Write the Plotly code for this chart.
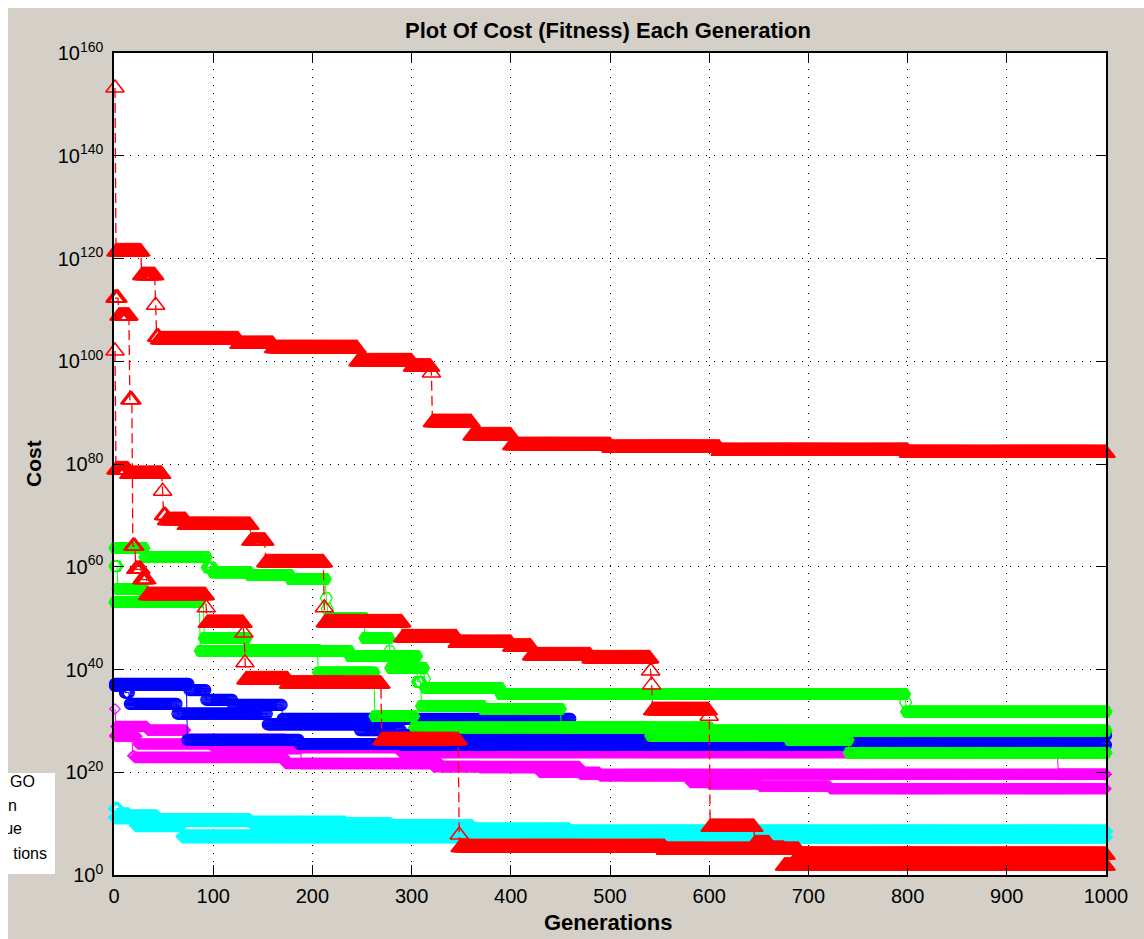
import numpy as np
import plotly.graph_objects as go

FONT = "Liberation Sans, Arial, Helvetica, sans-serif"
N_GEN = 1000

# Each run: generation at which a new best cost appears, and log10 of that cost.
# The best cost is held until the next improvement.
red_a_gen = [1, 2, 28, 42, 43, 46, 126, 161, 246, 301, 320, 321, 361, 401, 501, 611, 801]
red_a_log = [153.2, 121.3, 116.7, 110.9, 104.7, 104.2, 103.3, 102.5, 99.9, 98.9, 97.7, 88.1, 85.5, 83.6, 83.1, 82.5, 82.1]

red_b_gen = [1, 2, 15, 49, 50, 53, 73, 138, 153, 212, 213, 291, 346, 401, 421, 481, 541, 542, 543, 600, 601, 646, 661, 676]
red_b_log = [102.0, 78.9, 78.0, 74.7, 70.0, 69.0, 68.1, 65.0, 60.8, 52.0, 49.1, 46.2, 45.1, 44.4, 42.7, 42.1, 39.7, 37.0, 32.0, 30.9, 9.3, 6.1, 5.0, 1.75]

red_c_gen = [1, 5, 16, 19, 22, 28, 34, 93, 94, 131, 132, 133, 176, 270, 348, 349, 556, 691]
red_c_log = [112.3, 108.8, 92.5, 64.0, 59.5, 57.5, 54.4, 52.0, 49.0, 47.1, 41.3, 38.0, 37.2, 26.2, 7.8, 5.35, 4.8, 3.9]

green_a_gen = [1, 31, 94, 100, 137, 178, 214, 215, 216, 253, 278, 279, 313, 314, 390, 798, 799]
green_a_log = [63.65, 61.9, 59.85, 58.9, 58.4, 57.6, 53.9, 51.8, 50.0, 46.1, 43.6, 40.3, 38.2, 36.4, 35.2, 33.6, 31.8]

green_b_gen = [1, 4, 31, 91, 134, 206, 263, 303, 601]
green_b_log = [60.1, 55.7, 54.5, 46.1, 43.8, 39.4, 30.9, 28.7, 28.1]

green_c_gen = [1, 87, 238, 306, 310, 372, 451, 541, 681, 741]
green_c_log = [53.1, 43.6, 42.6, 37.6, 32.9, 32.3, 28.7, 27.1, 26.3, 23.8]

blue_a_gen = [1, 74, 187, 290]
blue_a_log = [37.0, 26.3, 25.5, 25.3]

blue_b_gen = [1, 76, 93, 120, 170, 461, 800]
blue_b_log = [37.2, 36.0, 34.1, 33.1, 30.4, 27.3, 27.2]

blue_c_gen = [1, 11, 16, 64, 155, 248, 290]
blue_c_log = [36.8, 35.5, 33.3, 31.4, 29.3, 28.2, 27.3]

magenta_a_gen = [1, 2, 34, 73, 173, 289, 952]
magenta_a_log = [32.3, 28.9, 28.2, 26.4, 24.8, 23.8, 19.6]

magenta_b_gen = [1, 24, 101, 189, 330, 470]
magenta_b_log = [27.0, 25.5, 24.6, 21.7, 21.1, 19.6]

magenta_c_gen = [1, 19, 21, 173, 322, 369, 429, 490, 581, 600, 651, 722]
magenta_c_log = [27.2, 23.2, 22.9, 21.7, 21.1, 20.9, 20.0, 19.3, 18.0, 17.7, 17.3, 16.8]

cyan_a_gen = [1, 5, 16, 44, 138, 234, 280, 362, 460]
cyan_a_log = [12.9, 11.8, 11.4, 10.7, 10.2, 9.9, 9.5, 8.9, 8.5]

cyan_b_gen = [1, 22, 69, 500]
cyan_b_log = [11.2, 9.7, 7.5, 7.4]

x_ticks = list(range(0, 1001, 100))
y_tick_exps = list(range(0, 161, 20))
legend_lines = ["GO", "n", "ue", "tions"]

title_text = "Plot Of Cost (Fitness) Each Generation"
x_title = "Generations"
y_title = "Cost"


def best_cost_curve(start_gens, log_costs):
    gens = np.arange(1, N_GEN + 1)
    seg = np.searchsorted(start_gens, gens, side="right") - 1
    return gens, 10.0 ** np.asarray(log_costs)[seg]


STYLES = {
    "cyan": dict(color="#00ffff", symbol="diamond-open", size=10, mw=1.2, dash="solid", lw=1),
    "magenta": dict(color="#ff00ff", symbol="diamond-open", size=8, mw=1.2, dash="solid", lw=1),
    "blue": dict(color="#0000ff", symbol="circle-open", size=11, mw=1.2, dash="solid", lw=1),
    "green": dict(color="#00ff00", symbol="hexagon2-open", size=12, mw=1.2, dash="solid", lw=1),
    "red": dict(color="#ff0000", symbol="triangle-up-open", size=16, mw=1.5, dash="10px,5px", lw=1.3),
}

runs = [
    ("cyan", cyan_a_gen, cyan_a_log),
    ("cyan", cyan_b_gen, cyan_b_log),
    ("magenta", magenta_a_gen, magenta_a_log),
    ("magenta", magenta_b_gen, magenta_b_log),
    ("magenta", magenta_c_gen, magenta_c_log),
    ("blue", blue_a_gen, blue_a_log),
    ("blue", blue_b_gen, blue_b_log),
    ("blue", blue_c_gen, blue_c_log),
    ("green", green_a_gen, green_a_log),
    ("green", green_b_gen, green_b_log),
    ("green", green_c_gen, green_c_log),
    ("red", red_a_gen, red_a_log),
    ("red", red_b_gen, red_b_log),
    ("red", red_c_gen, red_c_log),
]

fig = go.Figure()
for colour, starts, logs in runs:
    st = STYLES[colour]
    gx, cost = best_cost_curve(starts, logs)
    fig.add_trace(go.Scatter(
        x=gx, y=cost, mode="lines+markers",
        line=dict(color=st["color"], width=st["lw"], dash=st["dash"]),
        marker=dict(symbol=st["symbol"], size=st["size"], color=st["color"],
                    line=dict(width=st["mw"], color=st["color"])),
        cliponaxis=False, showlegend=False, hoverinfo="skip",
        xaxis="x", yaxis="y",
    ))

# Legend box (partly outside the window on the left)
fig.add_trace(go.Scatter(
    x=[27, 9, 14, 39], y=[783, 807, 830, 855], mode="text",
    text=legend_lines, textposition="middle left",
    textfont=dict(family=FONT, size=16, color="black"),
    xaxis="x2", yaxis="y2", cliponaxis=True, showlegend=False, hoverinfo="skip",
))

# Pixel geometry helpers: paper spans x 8..1106, y 53..875
PW, PH = 1098.0, 822.0


def px_x(px):
    return (px - 8) / PW


def px_y(py):
    return (875 - py) / PH


axis_common = dict(
    showline=True, linecolor="black", linewidth=1.5, mirror="ticks",
    ticks="inside", ticklen=10, tickwidth=1.3, tickcolor="black",
    showgrid=True, gridcolor="black", gridwidth=1, griddash="1px,7px",
    zeroline=False, automargin=False,
    tickfont=dict(family=FONT, size=20, color="black"),
)

fig.update_layout(
    template="none",
    width=1144, height=939,
    margin=dict(l=8, r=38, t=53, b=64, pad=0, autoexpand=False),
    paper_bgcolor="#d4d0c8", plot_bgcolor="white",
    showlegend=False,
    xaxis=dict(domain=[px_x(114), 1.0], range=[0, 1000], tickvals=x_ticks,
               ticktext=[str(v) for v in x_ticks], anchor="y",
               ticklabelstandoff=2, **axis_common),
    yaxis=dict(type="log", domain=[0, 1], range=[0, 160],
               tickvals=[10.0 ** e for e in y_tick_exps],
               ticktext=["10<sup>%d</sup>" % e for e in y_tick_exps],
               anchor="x", ticklabelstandoff=5, **axis_common),
    xaxis2=dict(domain=[0, px_x(55)], range=[0, 47], visible=False, anchor="y2",
                fixedrange=True, automargin=False),
    yaxis2=dict(domain=[px_y(874), px_y(773)], range=[874, 773], visible=False, anchor="x2",
                fixedrange=True, automargin=False),
    shapes=[
        # white window edge on the left, drawn over the cut-off legend text
        dict(type="rect", xref="paper", yref="paper", layer="above",
             x0=px_x(-2), x1=px_x(8), y0=px_y(941), y1=px_y(-2),
             fillcolor="white", line=dict(width=0)),
        dict(type="rect", xref="paper", yref="paper", layer="below",
             x0=px_x(0), x1=px_x(1144), y0=px_y(8), y1=px_y(0),
             fillcolor="white", line=dict(width=0)),
    ],
    annotations=[
        dict(text="<b>%s</b>" % title_text, xref="paper", yref="paper",
             x=px_x(608), y=px_y(30), showarrow=False, xanchor="center", yanchor="middle",
             font=dict(family=FONT, size=22, color="black")),
        dict(text="<b>%s</b>" % x_title, xref="paper", yref="paper",
             x=px_x(608), y=px_y(922), showarrow=False, xanchor="center", yanchor="middle",
             font=dict(family=FONT, size=22, color="black")),
        dict(text="<b>%s</b>" % y_title, xref="paper", yref="paper",
             x=px_x(33), y=px_y(464), showarrow=False, xanchor="center", yanchor="middle",
             textangle=-90, font=dict(family=FONT, size=21, color="black")),
    ],
)

fig.write_html("out.html")
